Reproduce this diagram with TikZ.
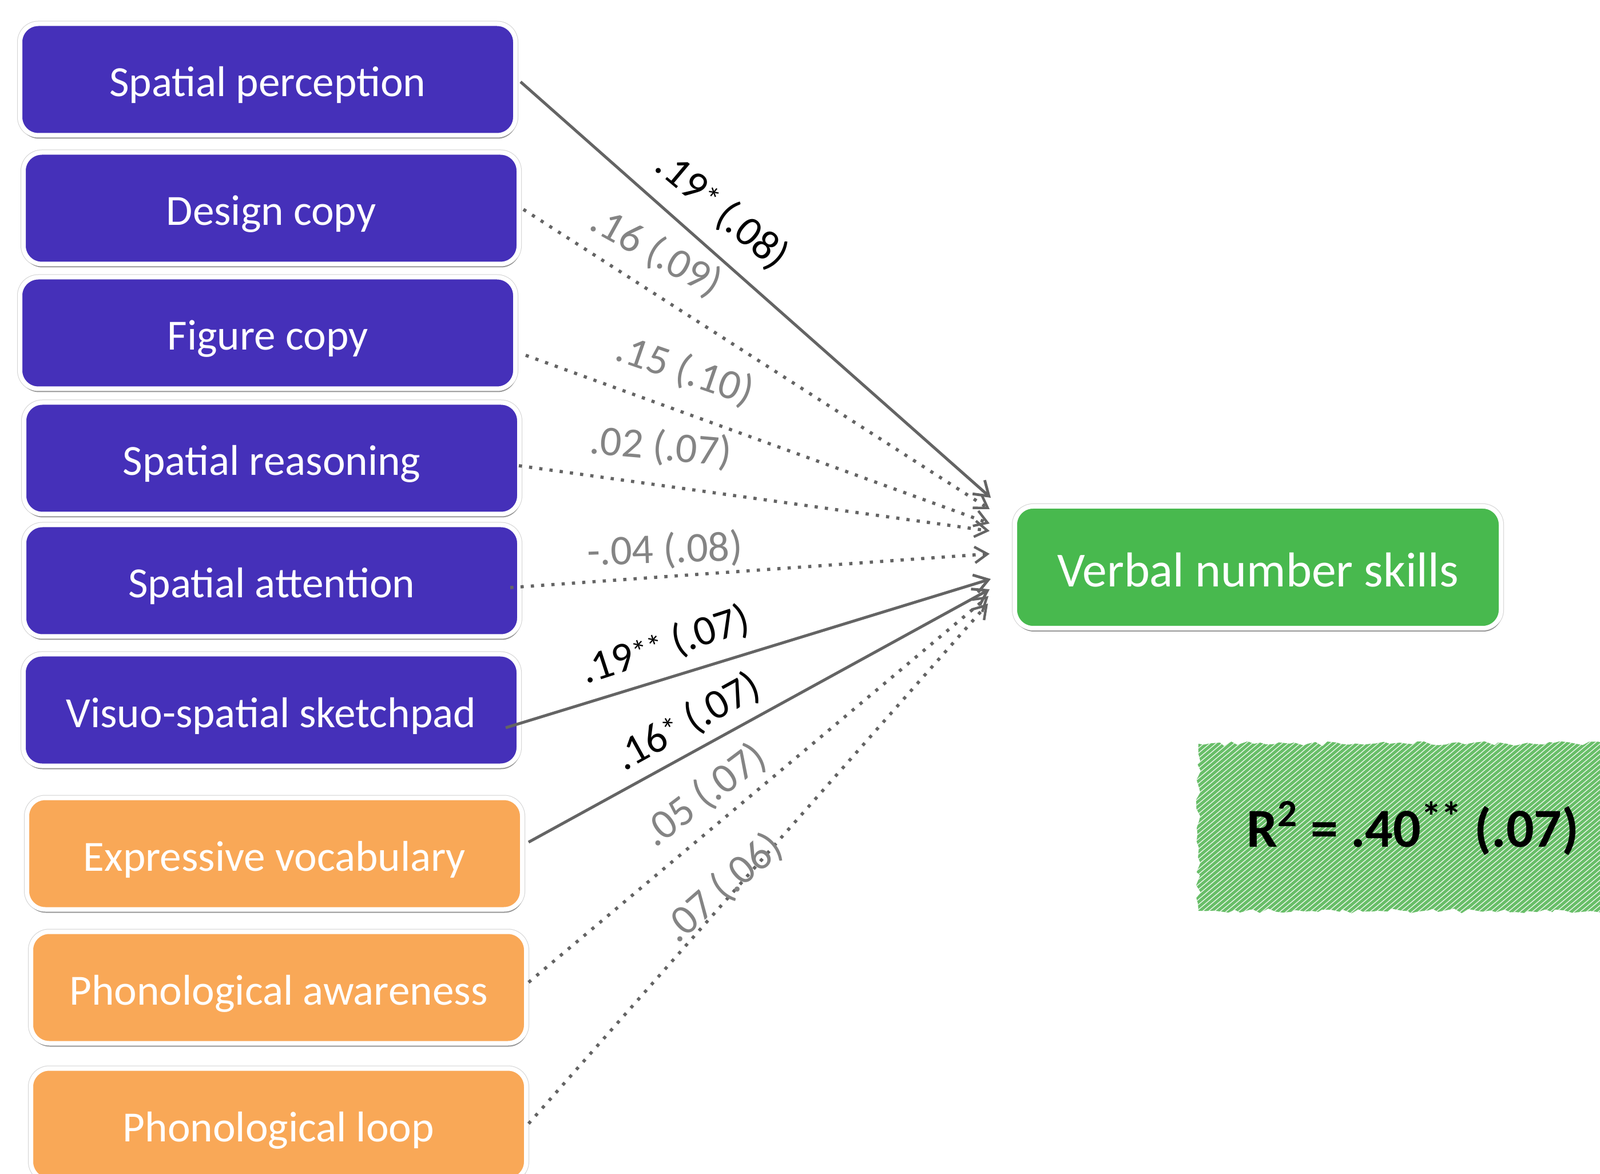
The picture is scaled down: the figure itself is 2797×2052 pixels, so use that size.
\documentclass[tikz,border=0pt]{standalone}
\usepackage{fontspec}
\setmainfont{Carlito}
\usetikzlibrary{arrows.meta,shadows,calc,decorations.pathmorphing}
\definecolor{purp}{RGB}{69,48,185}
\definecolor{oran}{RGB}{249,168,87}
\definecolor{grn}{RGB}{72,185,78}
\definecolor{rsq}{RGB}{104,190,104}
\definecolor{arr}{RGB}{100,100,100}
\definecolor{lab}{RGB}{132,132,132}
\newcommand{\stars}[1]{\raisebox{0.08em}{\fontsize{14}{14}\selectfont #1}}
\begin{document}
\begin{tikzpicture}[x=0.25pt,y=-0.25pt,
  box/.style={draw=white, line width=2pt, rounded corners=8pt,
    minimum width=216.5pt, minimum height=48.75pt, text=white,
    font=\fontsize{18.8}{22}\selectfont, inner sep=0pt,
    text height=17pt, text depth=2pt,
    preaction={draw=black!18, line width=2.5pt},
    drop shadow={shadow xshift=0.3pt, shadow yshift=-1.5pt, opacity=0.35, fill=black}},
  pbox/.style={box, fill=purp},
  obox/.style={box, fill=oran},
  gbox/.style={box, fill=grn, minimum width=212.5pt, minimum height=53.25pt,
    font=\fontsize{21.4}{25}\selectfont, text height=19.6pt, text depth=2.4pt},
  solidarr/.style={draw=arr, line width=1.25pt,
    -{Straight Barb[length=6pt,width=8pt,line width=1.2pt]}},
  dotarr/.style={draw=arr, line width=1.4pt, dash pattern=on 1.4pt off 3.1pt,
    -{Straight Barb[length=5.5pt,width=7pt,line width=1.1pt]}},
  siglab/.style={font=\fontsize{18.5}{22}\selectfont, text=black, inner sep=0pt},
  nslab/.style={siglab, text=lab}]
\useasboundingbox (0,0) rectangle (2797,2052);
\fill[white] (0,0) rectangle (2797,2052);

% R^2 hatched block
\begin{scope}
  \path[decorate, decoration={random steps, segment length=3pt, amplitude=1.1pt}, clip]
    (2095,1300) -- (2830,1300) -- (2830,1592) -- (2095,1592) -- cycle;
  \fill[rsq] (2000,1200) rectangle (2900,1700);
  \foreach \i in {0,...,105} {
    \draw[white, line width=0.35pt, opacity=0.85] (1720+\i*10.5,1605) -- ++(375,-315);
  }
\end{scope}
\node[font=\bfseries\fontsize{24}{28}\selectfont, inner sep=0pt] (r2) at (2470,1448)
  {R\textsuperscript{2} = .40\raisebox{0.3em}{\fontsize{18}{18}\selectfont **} (.07)};

% predictor boxes
\node[pbox] (sp) at (468,139)  {Spatial perception};
\node[pbox] (dc) at (474,364)  {Design copy};
\node[pbox] (fc) at (468,582)  {Figure copy};
\node[pbox] (sr) at (475,801)  {Spatial reasoning};
\node[pbox] (sa) at (475,1015) {Spatial attention};
\node[pbox] (vs) at (474,1241) {Visuo-spatial sketchpad};
\node[obox] (ev) at (480,1492) {Expressive vocabulary};
\node[obox] (pa) at (487,1726) {Phonological awareness};
\node[obox] (pl) at (487,1965) {Phonological loop};

% outcome
\node[gbox] (vn) at (2199,991.5) {Verbal number skills};

% arrow tips
\coordinate (t1) at (1732,870);
\coordinate (t2) at (1730,890);
\coordinate (t3) at (1730,915);
\coordinate (t4) at (1730,928);
\coordinate (t5) at (1730,968);
\coordinate (t6) at (1732,1012);
\coordinate (t7) at (1730,1030);
\coordinate (t8) at (1728,1042);
\coordinate (t9) at (1727,1055);

% connectors
\draw[dotarr]   ($(dc.east)+(4,2)$)   -- (t2);
\draw[dotarr]   ($(fc.east)+(14,39)$) -- (t3);
\draw[dotarr]   ($(sr.east)+(-5,13)$) -- (t4);
\draw[dotarr]   ($(sa.east)+(-20,12)$) -- (t5);
\draw[dotarr]   ($(pa.east)+(0,-9)$)  -- (t8);
\draw[dotarr]   ($(pl.east)+(0,-1)$)  -- (t9);
\draw[solidarr] ($(sp.east)+(5,4)$)   -- (t1);
\draw[solidarr] ($(vs.east)+(-27,31)$) -- (t6);
\draw[solidarr] ($(ev.east)+(7,-20)$) -- (t7);

% labels
\node[siglab, rotate=-40] (l1) at (1262,368)  {.19\stars{*} (.08)};
\node[nslab,  rotate=-29] (l2) at (1147,441)  {.16 (.09)};
\node[nslab,  rotate=-19] (l3) at (1197,648)  {.15 (.10)};
\node[nslab,  rotate=-5]  (l4) at (1155,782)  {.02 (.07)};
\node[nslab,  rotate=2]   (l5) at (1162,962)  {-.04 (.08)};
\node[siglab, rotate=18]  (l6) at (1163,1128) {.19\stars{**} (.07)};
\node[siglab, rotate=29]  (l7) at (1202,1262) {.16\stars{*} (.07)};
\node[nslab,  rotate=37]  (l8) at (1232,1390) {.05 (.07)};
\node[nslab,  rotate=41]  (l9) at (1264,1552) {.07 (.06)};
\end{tikzpicture}
\end{document}
